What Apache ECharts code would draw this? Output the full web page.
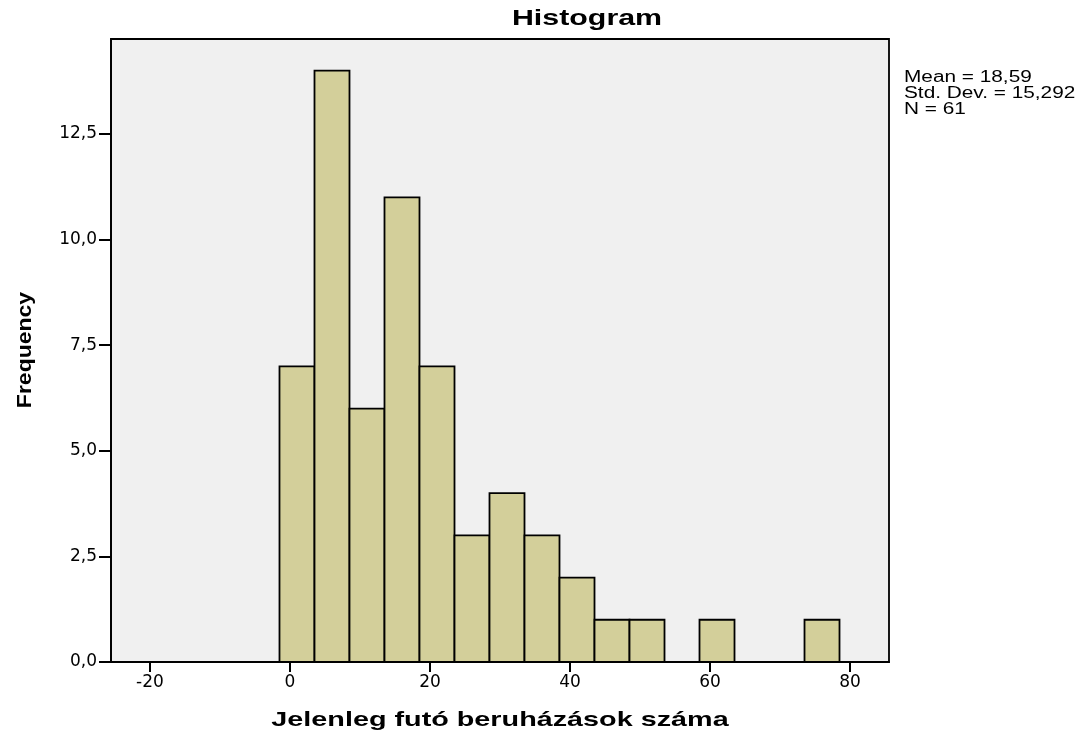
<!DOCTYPE html>
<html>
<head>
<meta charset="utf-8">
<script src="https://cdn.jsdelivr.net/npm/echarts@6/dist/echarts.min.js"></script>
<style>html,body{margin:0;padding:0;background:#fff;}#c{width:1084px;height:733px;}</style>
</head>
<body>
<div id="c"></div>
<script>
var titleText = 'Histogram';
var xName = 'Jelenleg futó beruházások száma';
var yName = 'Frequency';
var binStart = -1.5;
var binWidth = 5;
var counts = [7, 14, 6, 11, 7, 3, 4, 3, 2, 1, 1, 0, 1, 0, 0, 1];
var xTicks = [-20, 0, 20, 40, 60, 80];
var yTicks = [0, 2.5, 5, 7.5, 10, 12.5];
var statsLines = ['Mean = 18,59', 'Std. Dev. = 15,292', 'N = 61'];

var data = counts.map(function (c, i) {
  var s = binStart + i * binWidth;
  return [s, s + binWidth, c];
});

var chart = echarts.init(document.getElementById('c'));
chart.setOption({
  animation: false,
  backgroundColor: '#ffffff',
  graphic: [
    {
      type: 'text', x: 587, y: 19, scaleX: 1.38,
      style: { text: titleText, x: 0, y: 0, align: 'center', verticalAlign: 'middle',
        font: 'bold 22px "Liberation Sans"', fill: '#000' }
    },
    {
      type: 'text', x: 500, y: 720, scaleX: 1.37,
      style: { text: xName, x: 0, y: 0, align: 'center', verticalAlign: 'middle',
        font: 'bold 21px "Liberation Sans"', fill: '#000' }
    },
    {
      type: 'text', x: 25, y: 350, rotation: Math.PI / 2, scaleX: 1.15,
      style: { text: yName, x: 0, y: 0, align: 'center', verticalAlign: 'middle',
        font: 'bold 20px "Liberation Sans"', fill: '#000' }
    },
    {
      type: 'text', x: 904, y: 70, scaleX: 1.3,
      style: { text: statsLines.join('\n'), x: 0, y: 0, font: '16px "Liberation Sans"', lineHeight: 16, fill: '#000' }
    }
  ],
  grid: {
    left: 111, right: 195, top: 39, bottom: 71,
    show: true, backgroundColor: '#f0f0f0', borderColor: '#000', borderWidth: 1.8
  },
  xAxis: {
    type: 'value', min: -25.57, max: 85.57,
    splitLine: { show: false },
    axisLine: { show: true, onZero: false, lineStyle: { color: '#000', width: 1.8 } },
    axisTick: { show: true, length: 10, lineStyle: { color: '#000', width: 2 }, customValues: xTicks },
    axisLabel: { customValues: xTicks, color: '#000', fontFamily: 'DejaVu Sans', fontSize: 17, margin: 12 }
  },
  yAxis: {
    type: 'value', min: 0, max: 14.75,
    splitLine: { show: false },
    axisLine: { show: true, onZero: false, lineStyle: { color: '#000', width: 1.8 } },
    axisTick: { show: true, length: 12, lineStyle: { color: '#000', width: 2 }, customValues: yTicks },
    axisLabel: {
      customValues: yTicks, color: '#000', fontFamily: 'DejaVu Sans', fontSize: 17, margin: 14,
      formatter: function (v) { return v.toFixed(1).replace('.', ','); }
    }
  },
  series: [{
    type: 'custom',
    data: data,
    encode: { x: [0, 1], y: 2 },
    renderItem: function (params, api) {
      var c = api.value(2);
      if (!c) return null;
      var p0 = api.coord([api.value(0), 0]);
      var p1 = api.coord([api.value(1), c]);
      return {
        type: 'rect',
        shape: { x: p0[0], y: p1[1], width: p1[0] - p0[0], height: p0[1] - p1[1] },
        style: { fill: '#d3cf9a', stroke: '#000', lineWidth: 1.8 }
      };
    }
  }]
});
</script>
</body>
</html>
